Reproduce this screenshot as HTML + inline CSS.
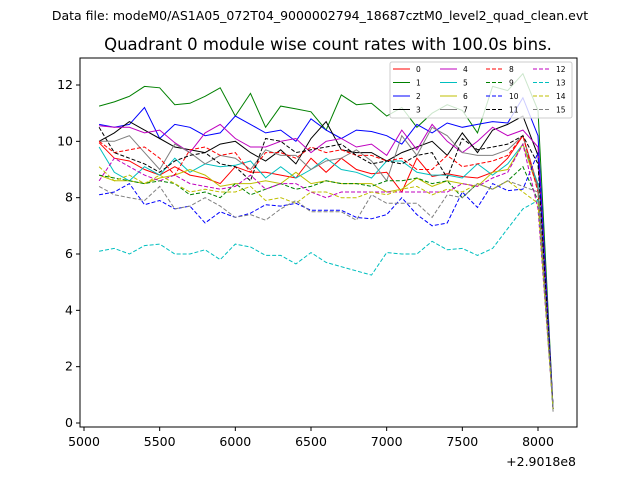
<!DOCTYPE html>
<html><head><meta charset="utf-8"><style>
body{margin:0;background:#fff;font-family:"DejaVu Sans","Liberation Sans",sans-serif}
svg text{font-family:"DejaVu Sans","Liberation Sans",sans-serif}
</style></head><body>
<svg id="chart" width="640" height="480" xmlns="http://www.w3.org/2000/svg">
<rect width="640" height="480" fill="#fff"/>
<text x="320" y="20" font-size="12.5" text-anchor="middle">Data file: modeM0/AS1A05_072T04_9000002794_18687cztM0_level2_quad_clean.evt</text>
<text x="328" y="50" font-size="16.5" text-anchor="middle">Quadrant 0 module wise count rates with 100.0s bins.</text>
<g id="plot"></g>
<rect x="80" y="58" width="497" height="369" fill="none" stroke="#000" stroke-width="1"/>
<g id="axes"></g>
<text x="576" y="466" font-size="12.5" text-anchor="end">+2.9018e8</text>
<g id="legend"></g>
</svg>
<script>
const xStart = 5100, xStep = 100;
const s0 = [9.95,9.4,9.3,9.0,8.8,9.1,8.8,8.7,8.5,9.1,8.9,8.9,8.8,8.7,9.4,8.9,9.4,9.0,8.85,8.9,8.2,9.4,8.75,8.85,8.75,8.7,8.9,9.4,10.2,8.4,0.5];
const s1 = [11.25,11.4,11.6,11.95,11.9,11.3,11.35,11.6,11.9,10.9,11.7,10.5,11.25,11.15,11.05,10.4,11.65,11.3,11.35,10.9,11.2,10.5,11.0,11.3,11.1,10.3,11.95,11.8,12.4,11.1,0.5];
const s2 = [10.6,10.5,10.6,11.2,10.1,10.6,10.5,10.2,10.3,10.9,10.6,10.3,10.4,10.0,10.8,10.4,10.1,10.4,10.35,10.2,9.9,10.6,10.3,10.65,10.5,10.6,10.7,10.65,11.55,10.2,0.5];
const s3 = [10.0,10.3,10.7,10.4,10.1,9.8,9.7,9.6,9.9,10.0,9.6,9.3,9.7,9.2,10.1,10.7,9.7,9.6,9.6,9.3,9.6,9.8,10.0,9.5,10.3,9.6,10.4,10.6,10.9,9.5,0.5];
const s4 = [10.55,10.5,10.5,10.3,10.4,9.95,9.6,10.3,10.6,10.1,9.8,9.8,10.0,10.1,9.6,10.0,10.1,9.8,9.9,9.5,10.4,9.7,10.6,10.0,9.6,10.0,10.5,10.2,10.4,9.8,0.5];
const s5 = [9.8,8.9,8.6,9.1,8.8,9.4,8.9,9.2,9.1,9.15,9.3,8.7,9.1,8.7,9.0,9.4,9.0,8.9,8.7,9.3,9.3,8.9,8.8,8.8,8.7,9.2,8.8,9.2,9.9,8.5,0.5];
const s6 = [8.8,8.6,8.6,8.5,8.7,8.8,9.0,8.8,8.4,8.5,8.5,8.6,8.5,8.9,8.5,8.6,8.5,8.5,8.5,8.2,8.3,8.7,8.4,8.6,8.5,8.4,8.9,9.0,9.9,8.3,0.5];
const s7 = [10.0,10.0,10.2,9.6,9.0,9.9,9.6,9.2,9.5,9.4,9.0,9.7,9.5,9.5,9.0,9.3,9.4,9.7,9.3,8.6,10.2,9.5,10.5,10.2,9.6,9.5,9.5,9.7,10.2,8.3,0.4];
const s8 = [10.0,9.6,9.7,9.8,9.4,8.8,9.7,9.8,9.5,9.6,8.9,9.6,9.6,9.4,9.8,9.6,9.7,9.5,9.5,9.3,9.4,9.0,9.0,9.5,9.1,9.2,9.3,9.5,10.2,8.2,0.5];
const s9 = [8.8,8.7,8.6,8.5,8.6,8.5,8.1,8.2,8.0,8.5,8.1,8.3,8.5,8.3,8.4,8.6,8.5,8.5,8.4,8.6,8.6,8.7,8.5,8.6,8.0,8.5,8.3,8.6,9.1,7.9,0.5];
const s10 = [8.1,8.2,8.5,7.75,7.9,7.6,7.7,7.1,7.5,7.3,7.45,7.75,7.7,7.8,7.55,7.55,7.55,7.3,7.25,7.4,8.0,7.4,7.0,7.1,8.2,7.65,8.5,8.25,8.3,9.6,0.5];
const s11 = [10.5,9.6,9.4,9.2,8.9,9.3,9.5,9.6,9.2,9.1,8.6,10.1,10.0,9.6,9.7,9.8,9.9,9.5,9.2,9.3,9.2,9.5,9.6,8.7,10.1,9.7,9.8,9.9,10.2,9.2,0.5];
const s12 = [8.6,9.4,9.1,8.8,8.6,8.8,8.5,8.4,8.3,8.4,8.8,8.3,8.5,8.5,8.2,8.0,8.2,8.2,8.2,8.2,8.2,8.2,8.2,8.2,8.5,8.4,8.7,8.9,9.9,7.6,0.5];
const s13 = [6.1,6.2,6.0,6.3,6.35,6.0,6.0,6.15,5.8,6.35,6.25,5.95,5.95,5.65,6.05,5.7,5.55,5.4,5.25,6.05,6.0,6.0,6.45,6.15,6.2,5.95,6.2,6.9,7.6,7.9,0.5];
const s14 = [9.1,8.6,8.8,8.5,8.8,8.5,8.2,8.3,8.2,8.2,8.4,7.9,8.0,7.8,8.2,8.2,8.0,8.0,8.2,8.1,8.3,8.4,8.1,8.3,8.2,8.5,8.3,8.6,8.2,7.8,0.5];
const s15 = [8.4,8.1,8.0,7.9,8.4,7.6,7.7,8.0,7.7,7.3,7.4,7.2,7.6,7.9,7.5,7.5,7.5,7.2,8.1,7.8,7.8,7.8,7.3,8.1,8.0,8.5,8.3,8.6,8.4,8.2,0.5];
const seriesLabels = ["0","1","2","3","4","5","6","7","8","9","10","11","12","13","14","15"];
const xTicks = [5000,5500,6000,6500,7000,7500,8000];
const yTicks = [0,2,4,6,8,10,12];

const allSeries=[s0,s1,s2,s3,s4,s5,s6,s7,s8,s9,s10,s11,s12,s13,s14,s15];
const colors=["#ff0000","#008000","#0000ff","#000000","#bf00bf","#00bfbf","#bfbf00","#808080"];
const X=v=>84+(v-5000)*454/3000;
const Y=v=>423-v*(338/12);
const NS="http://www.w3.org/2000/svg";
const plot=document.getElementById('plot');
allSeries.forEach((s,k)=>{
  const p=document.createElementNS(NS,'polyline');
  p.setAttribute('points',s.map((v,i)=>X(xStart+i*xStep).toFixed(1)+','+Y(v).toFixed(1)).join(' '));
  p.setAttribute('fill','none');
  p.setAttribute('stroke',colors[k%8]);
  p.setAttribute('stroke-width','1');
  if(k>=8)p.setAttribute('stroke-dasharray','4,2');
  
  
  plot.appendChild(p);
});
const axes=document.getElementById('axes');
xTicks.forEach(t=>{
  const l=document.createElementNS(NS,'line');
  l.setAttribute('x1',X(t));l.setAttribute('x2',X(t));l.setAttribute('y1',427);l.setAttribute('y2',431);l.setAttribute('stroke','#000');
  
  
  axes.appendChild(l);
  const tx=document.createElementNS(NS,'text');
  tx.setAttribute('x',X(t));tx.setAttribute('y',446);tx.setAttribute('font-size','12.5');tx.setAttribute('text-anchor','middle');
  tx.textContent=t;
  
  
  axes.appendChild(tx);
});
yTicks.forEach(t=>{
  const l=document.createElementNS(NS,'line');
  l.setAttribute('x1',76);l.setAttribute('x2',80);l.setAttribute('y1',Y(t));l.setAttribute('y2',Y(t));l.setAttribute('stroke','#000');
  
  
  axes.appendChild(l);
  const tx=document.createElementNS(NS,'text');
  tx.setAttribute('x',73);tx.setAttribute('y',Y(t)+4);tx.setAttribute('font-size','12.5');tx.setAttribute('text-anchor','end');
  tx.textContent=t;
  
  
  axes.appendChild(tx);
});
const lg=document.getElementById('legend');
const box=document.createElementNS(NS,'rect');
box.setAttribute('x',390);box.setAttribute('y',62);box.setAttribute('width',182);box.setAttribute('height',56);box.setAttribute('rx',2);
box.setAttribute('fill','#fff');box.setAttribute('fill-opacity','0.8');box.setAttribute('stroke','#ccc');


lg.appendChild(box);
const colX=[393,440,486,533];
seriesLabels.forEach((lab,k)=>{
  const c=Math.floor(k/4), r=k%4;
  const y=69+r*13.5, x=colX[c];
  const l=document.createElementNS(NS,'line');
  l.setAttribute('x1',x);l.setAttribute('x2',x+17);l.setAttribute('y1',y);l.setAttribute('y2',y);
  l.setAttribute('stroke',colors[k%8]);l.setAttribute('stroke-width','1');
  if(k>=8)l.setAttribute('stroke-dasharray','4,2');
  
  
  lg.appendChild(l);
  const tx=document.createElementNS(NS,'text');
  tx.setAttribute('x',x+23);tx.setAttribute('y',y+3);tx.setAttribute('font-size','7.5');
  tx.textContent=lab;
  
  
  lg.appendChild(tx);
});
</script>
</body></html>
